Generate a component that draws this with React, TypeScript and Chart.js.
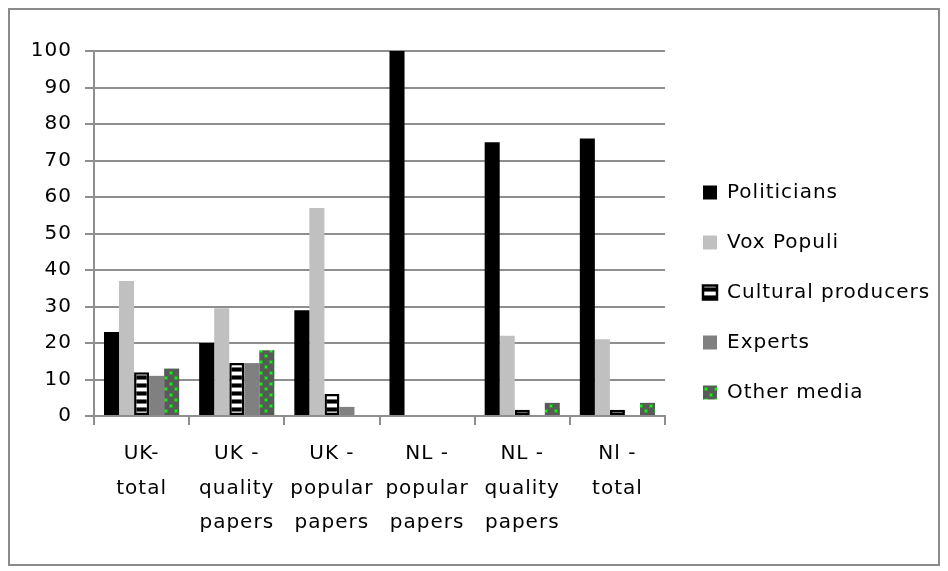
import React, { useEffect, useRef } from "react";
import { Chart, registerables } from "chart.js";

Chart.register(...registerables);

const categories: string[][] = [
  ["UK-", "total"],
  ["UK -", "quality", "papers"],
  ["UK -", "popular", "papers"],
  ["NL -", "popular", "papers"],
  ["NL -", "quality", "papers"],
  ["Nl -", "total"],
];

const politicians = [23, 20, 29, 100, 75, 76];
const voxPopuli = [37, 29.5, 57, 0, 22, 21];
const culturalProducers = [12, 14.5, 6, 0, 1.7, 1.7];
const experts = [11, 14.5, 2.5, 0, 0, 0];
const otherMedia = [13, 18, 0, 0, 3.6, 3.6];

const yTicks = [0, 10, 20, 30, 40, 50, 60, 70, 80, 90, 100];

const FONT = "'DejaVu Sans', sans-serif";
const GRID = "#8e8e8e";

// Horizontal black/white stripes for "Cultural producers"
function stripePattern(ctx: CanvasRenderingContext2D): CanvasPattern | string {
  const c = document.createElement("canvas");
  c.width = 8;
  c.height = 8;
  const g = c.getContext("2d")!;
  const rows = ["#000", "#000", "#000", "#6e6e6e", "#fff", "#fff", "#fff", "#6e6e6e"];
  rows.forEach((col, i) => {
    g.fillStyle = col;
    g.fillRect(0, i, 8, 1);
  });
  return ctx.createPattern(c, "repeat") || "#000";
}

// Dark grey with staggered green dots for "Other media"
function dotPattern(ctx: CanvasRenderingContext2D): CanvasPattern | string {
  const c = document.createElement("canvas");
  c.width = 10;
  c.height = 11;
  const g = c.getContext("2d")!;
  g.fillStyle = "#595959";
  g.fillRect(0, 0, 10, 11);
  const dot = (x: number, y: number) => {
    g.fillStyle = "#2f9a2f";
    g.fillRect(x - 1, y - 1, 4, 4);
    g.fillStyle = "#1cf01c";
    g.fillRect(x, y, 2, 2);
  };
  dot(2, 1);
  dot(7, 6);
  return ctx.createPattern(c, "repeat") || "#595959";
}

const framePlugin = {
  id: "frame",
  beforeLayout(chart: any) {
    (chart.ctx as any).letterSpacing = "1px";
  },
  beforeDraw(chart: any) {
    const { ctx, width, height } = chart;
    (ctx as any).letterSpacing = "1px";
    ctx.save();
    ctx.fillStyle = "#fff";
    ctx.fillRect(0, 0, width, height);
    ctx.strokeStyle = "#8a8a8a";
    ctx.lineWidth = 2;
    ctx.strokeRect(1, 1, width - 2, height - 2);
    ctx.restore();
  },
  afterLayout(chart: any) {
    const lg = chart.legend;
    if (lg) {
      lg.left += 8;
      lg.right += 8;
      lg.top -= 11;
      lg.bottom -= 11;
    }
  },
};

const legendWidthPlugin = {
  id: "legendWidth",
  beforeLayout(chart: any) {
    const lg = chart.legend;
    if (lg && !lg.__fixedWidth) {
      const orig = lg.fit.bind(lg);
      lg.fit = function () {
        orig();
        this.width = 275;
      };
      lg.__fixedWidth = true;
    }
  },
};

export default function App() {
  const ref = useRef<HTMLCanvasElement>(null);

  useEffect(() => {
    const canvas = ref.current!;
    const ctx = canvas.getContext("2d")!;
    const stripes = stripePattern(ctx);
    const dots = dotPattern(ctx);

    const chart = new Chart(canvas, {
      type: "bar",
      data: {
        labels: categories,
        datasets: [
          { label: "Politicians", data: politicians, backgroundColor: "#000000", borderWidth: 0 },
          { label: "Vox Populi", data: voxPopuli, backgroundColor: "#c0c0c0", borderWidth: 0 },
          {
            label: "Cultural producers",
            data: culturalProducers,
            backgroundColor: stripes as any,
            borderColor: "#000000",
            borderWidth: 2.5,
            borderSkipped: false,
          },
          { label: "Experts", data: experts, backgroundColor: "#808080", borderWidth: 0 },
          { label: "Other media", data: otherMedia, backgroundColor: dots as any, borderWidth: 0 },
        ],
      },
      options: {
        responsive: false,
        animation: false,
        devicePixelRatio: 1,
        datasets: {
          bar: { barPercentage: 1, categoryPercentage: 0.79 },
        },
        layout: { padding: { top: 43, left: 0, right: 0, bottom: 10 } },
        plugins: {
          tooltip: { enabled: false },
          legend: {
            position: "right",
            labels: {
              boxWidth: 14,
              boxHeight: 14,
              padding: 30,
              color: "#000",
              font: { family: FONT, size: 20 },
            },
          },
        },
        scales: {
          x: {
            afterFit: (s: any) => {
              s.height = 140;
            },
            grid: {
              offset: true,
              drawOnChartArea: false,
              drawTicks: true,
              tickLength: 9,
              color: GRID,
              lineWidth: 2,
            },
            border: { color: GRID, width: 2 },
            ticks: {
              color: "#000",
              padding: 12,
              maxRotation: 0,
              autoSkip: false,
              font: { family: FONT, size: 20, lineHeight: 1.72 },
            },
          },
          y: {
            min: 0,
            max: 100,
            afterFit: (s: any) => {
              s.width = 86;
            },
            afterBuildTicks: (s: any) => {
              s.ticks = yTicks.map((v) => ({ value: v }));
            },
            grid: {
              color: GRID,
              lineWidth: 2,
              drawTicks: true,
              tickLength: 9,
            },
            border: { color: GRID, width: 2 },
            ticks: {
              color: "#000",
              padding: 13,
              font: { family: FONT, size: 20 },
            },
          },
        },
      },
      plugins: [legendWidthPlugin, framePlugin],
    });

    return () => chart.destroy();
  }, []);

  return (
    <div style={{ width: 932, height: 558 }}>
      <canvas ref={ref} width={932} height={558} style={{ display: "block" }} />
    </div>
  );
}
